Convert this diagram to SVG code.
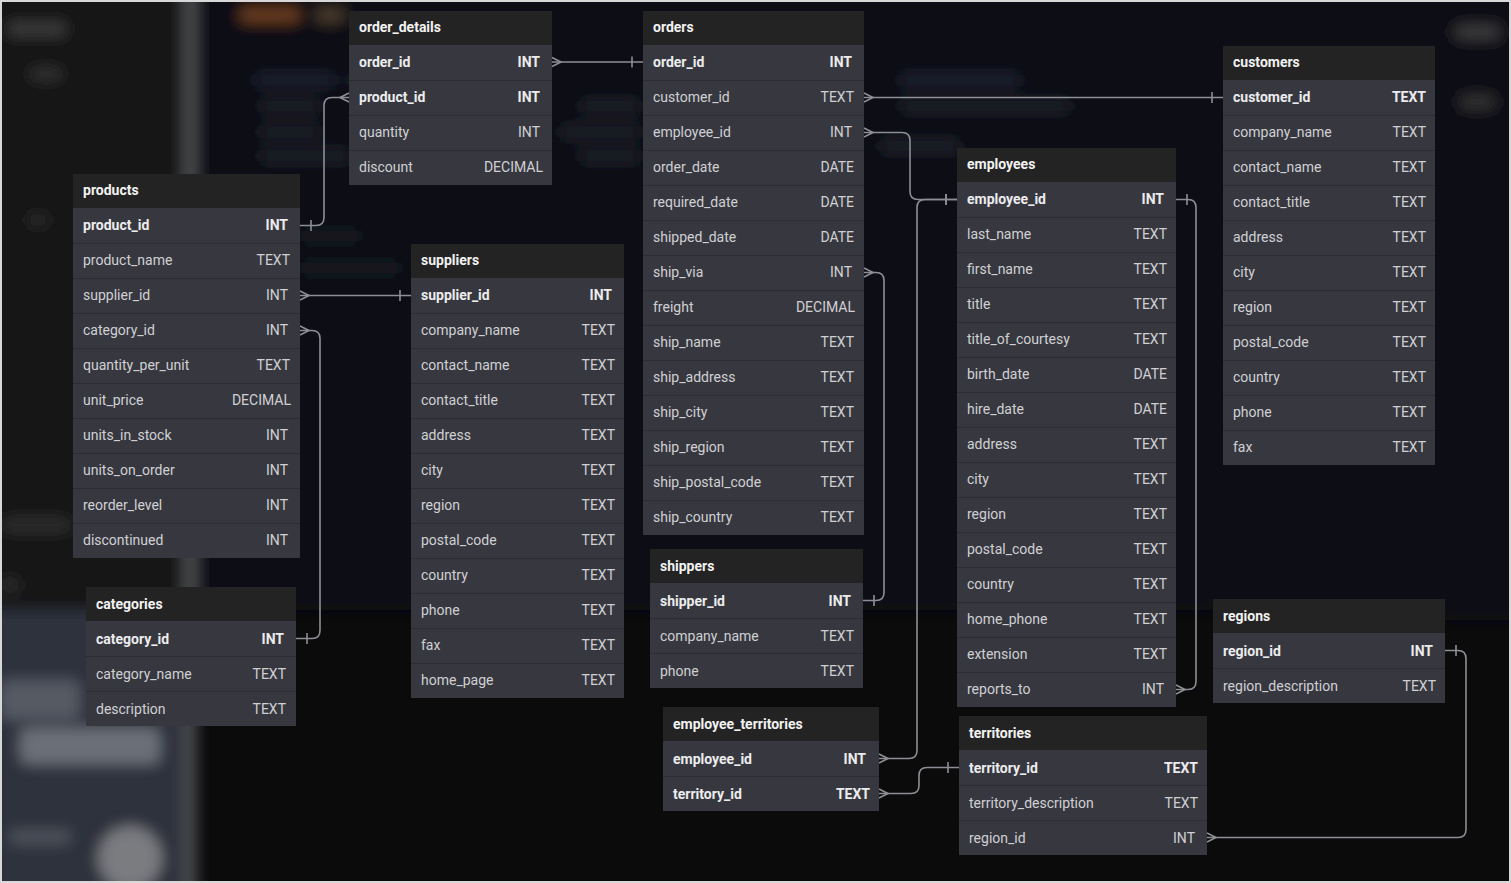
<svg xmlns="http://www.w3.org/2000/svg" width="1511" height="883" viewBox="0 0 1511 883">
<style>
.hd{fill:#232323}
.bd{fill:#37383f}
.sep{stroke:#2c2d33;stroke-width:1;fill:none}
.ht{font-family:Roboto,"Liberation Sans",sans-serif;font-size:14px;font-weight:bold;fill:#f2f2f2}
.f{font-family:Roboto,"Liberation Sans",sans-serif;font-size:14px;fill:#d0d0d4}
.pk{font-family:Roboto,"Liberation Sans",sans-serif;font-size:14px;font-weight:bold;fill:#ececee}
.t{text-anchor:end}
.cn{fill:none;stroke:#8e8f96;stroke-width:1.6;marker-start:url(#many);marker-end:url(#one)}
.mk{fill:none;stroke:#8e8f96;stroke-width:1.6}
</style>
<defs>
<filter id="blur" x="-20%" y="-20%" width="140%" height="140%"><feGaussianBlur stdDeviation="7"/></filter>
<filter id="blur2" x="-20%" y="-20%" width="140%" height="140%"><feGaussianBlur stdDeviation="3"/></filter>
<marker id="many" markerUnits="userSpaceOnUse" markerWidth="20" markerHeight="20" refX="0" refY="0" orient="auto" overflow="visible"><path class="mk" d="M0,-4.5 L9,0 L0,4.5"/></marker>
<marker id="one" markerUnits="userSpaceOnUse" markerWidth="20" markerHeight="20" refX="0" refY="0" orient="auto" overflow="visible"><path class="mk" d="M-11,-5.5 V5.5"/></marker>
</defs>

<g id="background">
<rect x="0" y="0" width="1511" height="883" fill="#0b0b0c"/>
<g filter="url(#blur)">
<rect x="195" y="-20" width="1250" height="630" fill="#0c1018"/>
<rect x="-20" y="-20" width="205" height="640" fill="#121212"/>
<rect x="-20" y="610" width="205" height="300" fill="#2e333c"/>
<rect x="183" y="-20" width="14" height="920" fill="#4a4b4e"/>
<rect x="1445" y="-20" width="80" height="640" fill="#101112"/>
<rect x="8" y="22" width="58" height="14" rx="5" fill="#3a3a3a"/>
<rect x="30" y="68" width="32" height="12" rx="5" fill="#333"/>
<rect x="28" y="214" width="20" height="12" rx="5" fill="#2c2c2c"/>
<rect x="2" y="518" width="68" height="14" rx="5" fill="#2f2f2f"/>
<rect x="2" y="578" width="16" height="14" rx="5" fill="#2f2f2f"/>
<rect x="0" y="680" width="80" height="40" rx="8" fill="#555a63"/>
<rect x="20" y="728" width="140" height="36" rx="8" fill="#6a6f78"/>
<rect x="10" y="830" width="60" height="14" rx="5" fill="#4d525b"/>
<circle cx="130" cy="858" r="32" fill="#7a7b80"/>
<rect x="240" y="8" width="60" height="14" rx="5" fill="#6a3d1c"/>
<rect x="315" y="8" width="30" height="14" rx="5" fill="#4a3a2a"/>
<rect x="255" y="74" width="80" height="12" rx="5" fill="#1e2430"/>
<rect x="350" y="74" width="120" height="12" rx="5" fill="#1e2430"/>
<rect x="260" y="100" width="60" height="12" rx="5" fill="#1b2029"/>
<rect x="580" y="100" width="60" height="12" rx="5" fill="#1b2029"/>
<rect x="260" y="126" width="60" height="12" rx="5" fill="#1b2029"/>
<rect x="560" y="126" width="80" height="12" rx="5" fill="#1b2029"/>
<rect x="260" y="150" width="90" height="12" rx="5" fill="#1b2029"/>
<rect x="580" y="150" width="60" height="12" rx="5" fill="#1b2029"/>
<rect x="900" y="74" width="120" height="12" rx="5" fill="#1e2430"/>
<rect x="900" y="100" width="170" height="12" rx="5" fill="#1b2029"/>
<rect x="880" y="140" width="80" height="12" rx="5" fill="#1b2029"/>
<rect x="300" y="230" width="60" height="12" rx="5" fill="#181c24"/>
<rect x="300" y="262" width="100" height="12" rx="5" fill="#181c24"/>
<rect x="1455" y="25" width="45" height="14" rx="5" fill="#3a3a3a"/>
<rect x="1460" y="95" width="35" height="14" rx="5" fill="#303030"/>
</g>
<rect x="1" y="1" width="1509" height="881" fill="none" stroke="#d8d8d8" stroke-width="2"/>
</g>

<g id="connectors">
<path class="cn" d="M552,62 H643"/>
<path class="cn" d="M349,97.5 H332 Q324,97.5 324,105.5 V217.5 Q324,225.5 316,225.5 H300"/>
<path class="cn" d="M300,295.5 H411"/>
<path class="cn" d="M300,330.5 H312 Q320,330.5 320,338.5 V630.5 Q320,638.5 312,638.5 H296"/>
<path class="cn" d="M864,97.5 H1223"/>
<path class="cn" d="M864,132.5 H902 Q910,132.5 910,140.5 V191.5 Q910,199.5 918,199.5 H957"/>
<path class="cn" d="M864,272.5 H876 Q884,272.5 884,280.5 V592.5 Q884,600.5 876,600.5 H863"/>
<path class="cn" d="M1176,689.5 H1188 Q1196,689.5 1196,681.5 V207.5 Q1196,199.5 1188,199.5 H1176"/>
<path class="cn" d="M879,758.5 H909 Q917,758.5 917,750.5 V207.5 Q917,199.5 925,199.5 H957"/>
<path class="cn" d="M879,793.5 H911 Q919,793.5 919,785.5 V775.5 Q919,767.5 927,767.5 H959"/>
<path class="cn" d="M1207,837.5 H1458 Q1466,837.5 1466,829.5 V658.5 Q1466,650.5 1458,650.5 H1445"/>
</g>

<g id="order_details">
<rect class="hd" x="349" y="11" width="203" height="34"/>
<rect class="bd" x="349" y="45" width="203" height="140"/>
<path class="sep" d="M349,80.5 H552 M349,115.5 H552 M349,150.5 H552"/>
<text class="ht" x="359" y="32">order_details</text>
<text class="pk" x="359" y="67">order_id</text><text class="pk t" x="540" y="67">INT</text>
<text class="pk" x="359" y="102">product_id</text><text class="pk t" x="540" y="102">INT</text>
<text class="f" x="359" y="137">quantity</text><text class="f t" x="540" y="137">INT</text>
<text class="f" x="359" y="172">discount</text><text class="f t" x="543" y="172">DECIMAL</text>
</g>

<g id="orders">
<rect class="hd" x="643" y="11" width="221" height="34"/>
<rect class="bd" x="643" y="45" width="221" height="490"/>
<path class="sep" d="M643,80.5 H864 M643,115.5 H864 M643,150.5 H864 M643,185.5 H864 M643,220.5 H864 M643,255.5 H864 M643,290.5 H864 M643,325.5 H864 M643,360.5 H864 M643,395.5 H864 M643,430.5 H864 M643,465.5 H864 M643,500.5 H864"/>
<text class="ht" x="653" y="32">orders</text>
<text class="pk" x="653" y="67">order_id</text><text class="pk t" x="852" y="67">INT</text>
<text class="f" x="653" y="102">customer_id</text><text class="f t" x="854" y="102">TEXT</text>
<text class="f" x="653" y="137">employee_id</text><text class="f t" x="852" y="137">INT</text>
<text class="f" x="653" y="172">order_date</text><text class="f t" x="854" y="172">DATE</text>
<text class="f" x="653" y="207">required_date</text><text class="f t" x="854" y="207">DATE</text>
<text class="f" x="653" y="242">shipped_date</text><text class="f t" x="854" y="242">DATE</text>
<text class="f" x="653" y="277">ship_via</text><text class="f t" x="852" y="277">INT</text>
<text class="f" x="653" y="312">freight</text><text class="f t" x="855" y="312">DECIMAL</text>
<text class="f" x="653" y="347">ship_name</text><text class="f t" x="854" y="347">TEXT</text>
<text class="f" x="653" y="382">ship_address</text><text class="f t" x="854" y="382">TEXT</text>
<text class="f" x="653" y="417">ship_city</text><text class="f t" x="854" y="417">TEXT</text>
<text class="f" x="653" y="452">ship_region</text><text class="f t" x="854" y="452">TEXT</text>
<text class="f" x="653" y="487">ship_postal_code</text><text class="f t" x="854" y="487">TEXT</text>
<text class="f" x="653" y="522">ship_country</text><text class="f t" x="854" y="522">TEXT</text>
</g>

<g id="customers">
<rect class="hd" x="1223" y="46" width="212" height="34"/>
<rect class="bd" x="1223" y="80" width="212" height="385"/>
<path class="sep" d="M1223,115.5 H1435 M1223,150.5 H1435 M1223,185.5 H1435 M1223,220.5 H1435 M1223,255.5 H1435 M1223,290.5 H1435 M1223,325.5 H1435 M1223,360.5 H1435 M1223,395.5 H1435 M1223,430.5 H1435"/>
<text class="ht" x="1233" y="67">customers</text>
<text class="pk" x="1233" y="102">customer_id</text><text class="pk t" x="1426" y="102">TEXT</text>
<text class="f" x="1233" y="137">company_name</text><text class="f t" x="1426" y="137">TEXT</text>
<text class="f" x="1233" y="172">contact_name</text><text class="f t" x="1426" y="172">TEXT</text>
<text class="f" x="1233" y="207">contact_title</text><text class="f t" x="1426" y="207">TEXT</text>
<text class="f" x="1233" y="242">address</text><text class="f t" x="1426" y="242">TEXT</text>
<text class="f" x="1233" y="277">city</text><text class="f t" x="1426" y="277">TEXT</text>
<text class="f" x="1233" y="312">region</text><text class="f t" x="1426" y="312">TEXT</text>
<text class="f" x="1233" y="347">postal_code</text><text class="f t" x="1426" y="347">TEXT</text>
<text class="f" x="1233" y="382">country</text><text class="f t" x="1426" y="382">TEXT</text>
<text class="f" x="1233" y="417">phone</text><text class="f t" x="1426" y="417">TEXT</text>
<text class="f" x="1233" y="452">fax</text><text class="f t" x="1426" y="452">TEXT</text>
</g>

<g id="employees">
<rect class="hd" x="957" y="148" width="219" height="34"/>
<rect class="bd" x="957" y="182" width="219" height="525"/>
<path class="sep" d="M957,217.5 H1176 M957,252.5 H1176 M957,287.5 H1176 M957,322.5 H1176 M957,357.5 H1176 M957,392.5 H1176 M957,427.5 H1176 M957,462.5 H1176 M957,497.5 H1176 M957,532.5 H1176 M957,567.5 H1176 M957,602.5 H1176 M957,637.5 H1176 M957,672.5 H1176"/>
<text class="ht" x="967" y="169">employees</text>
<text class="pk" x="967" y="204">employee_id</text><text class="pk t" x="1164" y="204">INT</text>
<text class="f" x="967" y="239">last_name</text><text class="f t" x="1167" y="239">TEXT</text>
<text class="f" x="967" y="274">first_name</text><text class="f t" x="1167" y="274">TEXT</text>
<text class="f" x="967" y="309">title</text><text class="f t" x="1167" y="309">TEXT</text>
<text class="f" x="967" y="344">title_of_courtesy</text><text class="f t" x="1167" y="344">TEXT</text>
<text class="f" x="967" y="379">birth_date</text><text class="f t" x="1167" y="379">DATE</text>
<text class="f" x="967" y="414">hire_date</text><text class="f t" x="1167" y="414">DATE</text>
<text class="f" x="967" y="449">address</text><text class="f t" x="1167" y="449">TEXT</text>
<text class="f" x="967" y="484">city</text><text class="f t" x="1167" y="484">TEXT</text>
<text class="f" x="967" y="519">region</text><text class="f t" x="1167" y="519">TEXT</text>
<text class="f" x="967" y="554">postal_code</text><text class="f t" x="1167" y="554">TEXT</text>
<text class="f" x="967" y="589">country</text><text class="f t" x="1167" y="589">TEXT</text>
<text class="f" x="967" y="624">home_phone</text><text class="f t" x="1167" y="624">TEXT</text>
<text class="f" x="967" y="659">extension</text><text class="f t" x="1167" y="659">TEXT</text>
<text class="f" x="967" y="694">reports_to</text><text class="f t" x="1164" y="694">INT</text>
</g>

<g id="products">
<rect class="hd" x="73" y="174" width="227" height="34"/>
<rect class="bd" x="73" y="208" width="227" height="350"/>
<path class="sep" d="M73,243.5 H300 M73,278.5 H300 M73,313.5 H300 M73,348.5 H300 M73,383.5 H300 M73,418.5 H300 M73,453.5 H300 M73,488.5 H300 M73,523.5 H300"/>
<text class="ht" x="83" y="195">products</text>
<text class="pk" x="83" y="230">product_id</text><text class="pk t" x="288" y="230">INT</text>
<text class="f" x="83" y="265">product_name</text><text class="f t" x="290" y="265">TEXT</text>
<text class="f" x="83" y="300">supplier_id</text><text class="f t" x="288" y="300">INT</text>
<text class="f" x="83" y="335">category_id</text><text class="f t" x="288" y="335">INT</text>
<text class="f" x="83" y="370">quantity_per_unit</text><text class="f t" x="290" y="370">TEXT</text>
<text class="f" x="83" y="405">unit_price</text><text class="f t" x="291" y="405">DECIMAL</text>
<text class="f" x="83" y="440">units_in_stock</text><text class="f t" x="288" y="440">INT</text>
<text class="f" x="83" y="475">units_on_order</text><text class="f t" x="288" y="475">INT</text>
<text class="f" x="83" y="510">reorder_level</text><text class="f t" x="288" y="510">INT</text>
<text class="f" x="83" y="545">discontinued</text><text class="f t" x="288" y="545">INT</text>
</g>

<g id="suppliers">
<rect class="hd" x="411" y="244" width="213" height="34"/>
<rect class="bd" x="411" y="278" width="213" height="420"/>
<path class="sep" d="M411,313.5 H624 M411,348.5 H624 M411,383.5 H624 M411,418.5 H624 M411,453.5 H624 M411,488.5 H624 M411,523.5 H624 M411,558.5 H624 M411,593.5 H624 M411,628.5 H624 M411,663.5 H624"/>
<text class="ht" x="421" y="265">suppliers</text>
<text class="pk" x="421" y="300">supplier_id</text><text class="pk t" x="612" y="300">INT</text>
<text class="f" x="421" y="335">company_name</text><text class="f t" x="615" y="335">TEXT</text>
<text class="f" x="421" y="370">contact_name</text><text class="f t" x="615" y="370">TEXT</text>
<text class="f" x="421" y="405">contact_title</text><text class="f t" x="615" y="405">TEXT</text>
<text class="f" x="421" y="440">address</text><text class="f t" x="615" y="440">TEXT</text>
<text class="f" x="421" y="475">city</text><text class="f t" x="615" y="475">TEXT</text>
<text class="f" x="421" y="510">region</text><text class="f t" x="615" y="510">TEXT</text>
<text class="f" x="421" y="545">postal_code</text><text class="f t" x="615" y="545">TEXT</text>
<text class="f" x="421" y="580">country</text><text class="f t" x="615" y="580">TEXT</text>
<text class="f" x="421" y="615">phone</text><text class="f t" x="615" y="615">TEXT</text>
<text class="f" x="421" y="650">fax</text><text class="f t" x="615" y="650">TEXT</text>
<text class="f" x="421" y="685">home_page</text><text class="f t" x="615" y="685">TEXT</text>
</g>

<g id="categories">
<rect class="hd" x="86" y="587" width="210" height="34"/>
<rect class="bd" x="86" y="621" width="210" height="105"/>
<path class="sep" d="M86,656.5 H296 M86,691.5 H296"/>
<text class="ht" x="96" y="609">categories</text>
<text class="pk" x="96" y="644">category_id</text><text class="pk t" x="284" y="644">INT</text>
<text class="f" x="96" y="679">category_name</text><text class="f t" x="286" y="679">TEXT</text>
<text class="f" x="96" y="714">description</text><text class="f t" x="286" y="714">TEXT</text>
</g>

<g id="shippers">
<rect class="hd" x="650" y="549" width="213" height="34"/>
<rect class="bd" x="650" y="583" width="213" height="105"/>
<path class="sep" d="M650,618.5 H863 M650,653.5 H863"/>
<text class="ht" x="660" y="571">shippers</text>
<text class="pk" x="660" y="606">shipper_id</text><text class="pk t" x="851" y="606">INT</text>
<text class="f" x="660" y="641">company_name</text><text class="f t" x="854" y="641">TEXT</text>
<text class="f" x="660" y="676">phone</text><text class="f t" x="854" y="676">TEXT</text>
</g>

<g id="employee_territories">
<rect class="hd" x="663" y="707" width="216" height="34"/>
<rect class="bd" x="663" y="741" width="216" height="70"/>
<path class="sep" d="M663,776.5 H879"/>
<text class="ht" x="673" y="729">employee_territories</text>
<text class="pk" x="673" y="764">employee_id</text><text class="pk t" x="866" y="764">INT</text>
<text class="pk" x="673" y="799">territory_id</text><text class="pk t" x="870" y="799">TEXT</text>
</g>

<g id="territories">
<rect class="hd" x="959" y="716" width="248" height="34"/>
<rect class="bd" x="959" y="750" width="248" height="105"/>
<path class="sep" d="M959,785.5 H1207 M959,820.5 H1207"/>
<text class="ht" x="969" y="738">territories</text>
<text class="pk" x="969" y="773">territory_id</text><text class="pk t" x="1198" y="773">TEXT</text>
<text class="f" x="969" y="808">territory_description</text><text class="f t" x="1198" y="808">TEXT</text>
<text class="f" x="969" y="843">region_id</text><text class="f t" x="1195" y="843">INT</text>
</g>

<g id="regions">
<rect class="hd" x="1213" y="599" width="232" height="34"/>
<rect class="bd" x="1213" y="633" width="232" height="70"/>
<path class="sep" d="M1213,668.5 H1445"/>
<text class="ht" x="1223" y="621">regions</text>
<text class="pk" x="1223" y="656">region_id</text><text class="pk t" x="1433" y="656">INT</text>
<text class="f" x="1223" y="691">region_description</text><text class="f t" x="1436" y="691">TEXT</text>
</g>
</svg>
